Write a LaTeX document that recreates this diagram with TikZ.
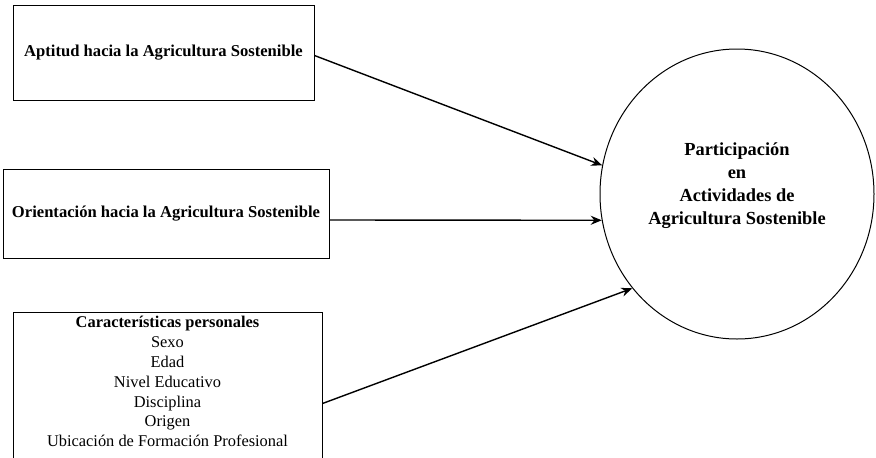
\documentclass[tikz,border=0pt]{standalone}
\usepackage{fontspec}
\setmainfont{Liberation Serif}
\usetikzlibrary{arrows.meta,shapes.geometric}

\tikzset{
    factor/.style={draw, line width=1pt, align=center},
    link/.style={-{Stealth[length=11pt,width=9pt]}, line width=1.4pt}
}

\begin{document}
\begin{tikzpicture}[x=1pt,y=-1pt]
    \useasboundingbox (0,0) rectangle (876,458);

    % Define the three factor boxes
    \node[factor, minimum width=301, minimum height=95, font=\fontsize{16.6}{19}\selectfont\bfseries] (aptitud) at (163.5,52.5) {Aptitud hacia la Agricultura Sostenible};
    \node[factor, minimum width=326, minimum height=89, font=\fontsize{16.6}{19}\selectfont\bfseries] (orientacion) at (166,213.5) {Orientación hacia la Agricultura Sostenible};
    \node[factor, anchor=north, minimum width=309, inner ysep=4pt, font=\fontsize{16.4}{19.8}\selectfont] (caracteristicas) at (167.5,312)
        {\textbf{Características personales}\\Sexo\\Edad\\Nivel Educativo\\Disciplina\\Origen\\Ubicación de Formación Profesional\\[4pt]};

    % Draw the outcome ellipse, its text a little above the middle
    \node[ellipse, draw, line width=1pt, minimum width=274, minimum height=290,
        label={[align=center, yshift=8pt, font=\fontsize{18.4}{23}\selectfont\bfseries]center:Participación\\en\\Actividades de\\Agricultura Sostenible}] (participacion) at (737,194) {};

    % Draw arrows into the ellipse
    \draw[link] ([yshift=-3pt]aptitud.east) -- (participacion.168);
    \draw[link] ([yshift=-6.5pt]orientacion.east) -- (participacion.191);
    \draw[link] ([yshift=-10pt]caracteristicas.east) -- (participacion.222);
\end{tikzpicture}
\end{document}
